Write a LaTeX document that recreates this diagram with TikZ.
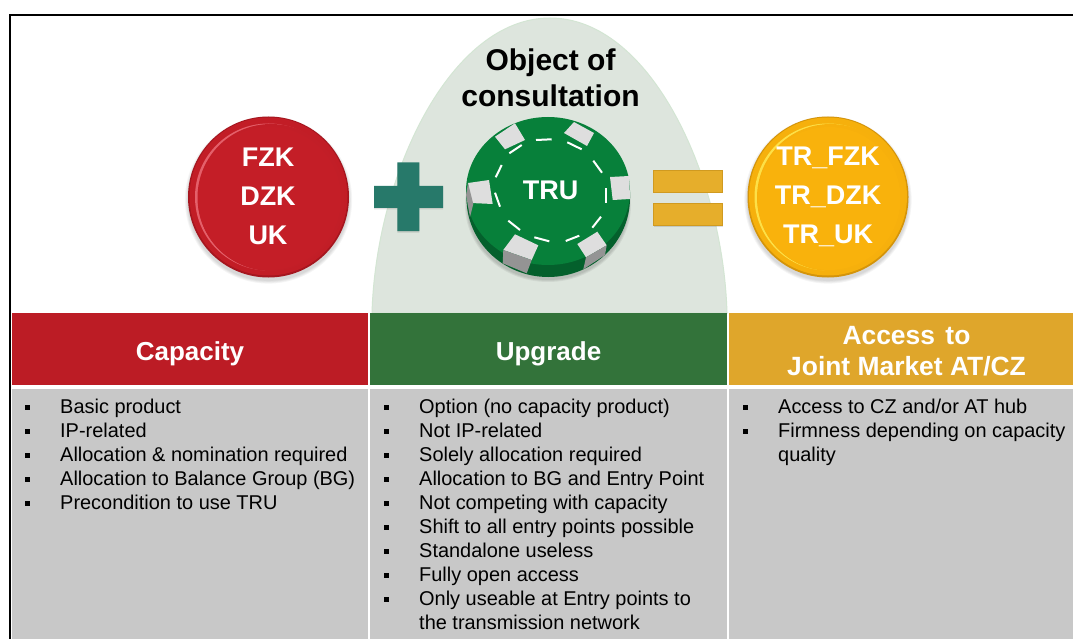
\documentclass[tikz,border=0pt]{standalone}
\usepackage{fontspec}
\setmainfont{Liberation Sans}
\usetikzlibrary{calc}
\definecolor{redc}{HTML}{C41E27}
\definecolor{redout}{HTML}{A5161F}
\definecolor{redrim}{HTML}{E4606A}
\definecolor{redhead}{HTML}{BC1C25}
\definecolor{greenhead}{HTML}{33733A}
\definecolor{goldhead}{HTML}{DFA62B}
\definecolor{bodygrey}{HTML}{C8C8C8}
\definecolor{bell}{HTML}{DDE5DD}
\definecolor{bellline}{HTML}{D3E5D3}
\definecolor{plusc}{HTML}{27796A}
\definecolor{eqc}{HTML}{E6AE2B}
\definecolor{eqline}{HTML}{D09A20}
\definecolor{chipg}{HTML}{07803A}
\definecolor{chipd}{HTML}{04602C}
\definecolor{stripe}{HTML}{DEDEDE}
\definecolor{stripes}{HTML}{949494}
\definecolor{goldc}{HTML}{F9B20C}
\definecolor{goldout}{HTML}{D4940A}
\definecolor{goldrim}{HTML}{FDE047}
\tikzset{
 x=1pt,y=-1pt,
 head/.style={text=white,font=\fontsize{26}{31}\selectfont\bfseries,align=center,anchor=center},
 coin/.style={text=white,font=\fontsize{27}{39}\selectfont\bfseries,align=center,anchor=center},
 item/.style={anchor=base west,inner sep=0pt,text=black,font=\fontsize{19.95}{24}\selectfont},
 bul/.style={fill=black,minimum size=5pt,inner sep=0pt,draw=none,anchor=center},
}
\newcommand{\button}[5]{%
 \foreach \r in {1,2,3,4}{\fill[black,opacity=.04] (#1,#2+3) circle[radius=80+\r*.9];}
 \fill[#3] (#1,#2) circle[radius=80.5];
 \fill[#5!92!#3] (#1,#2-.5) circle[radius=79];
 \fill[#4] (#1,#2) circle[radius=73.5];
 \fill[#5!94!#3] (#1+2.5,#2+.5) circle[radius=73.5];
 \fill[#5] (#1+1,#2+1.5) circle[radius=71.5];
}
\begin{document}
\begin{tikzpicture}
\useasboundingbox (0,0) rectangle (1073,639);
\fill[white] (0,0) rectangle (1073,639);
% frame
\coordinate (fb) at (9.5,639);
\coordinate (ft) at (9.5,15);
\coordinate (fr) at (1073,15);
\draw[black,line width=2pt] (fb) -- (ft) -- (fr);
% bell
\coordinate (bl) at (372,313);
\coordinate (bt) at (550,18);
\coordinate (br) at (727,313);
\fill[bell,draw=bellline,line width=1pt] (bl) .. controls (376,175) and (450,18) .. (bt) .. controls (650,18) and (723,175) .. (br) -- cycle;
% headers
\fill[redhead] (12,313) rectangle (368,385);
\fill[greenhead] (370,313) rectangle (727,385);
\fill[goldhead] (729,313) rectangle (1073,385);
\node[head] (h1) at (190,353.5) {Capacity};
\node[head] (h2) at (548.5,353.5) {Upgrade};
\node[head,font=\fontsize{26.4}{31}\selectfont\bfseries] (h3) at (906.5,351) {Access\hspace{.12em} to\\Joint Market AT/CZ};
% bodies
\fill[bodygrey] (12,389) rectangle (368,639);
\fill[bodygrey] (370,389) rectangle (727,639);
\fill[bodygrey] (729,389) rectangle (1073,639);
\foreach \t [count=\i] in {Basic product,IP-related,Allocation \& nomination required,Allocation to Balance Group (BG),Precondition to use TRU}{
 \node[bul] (ba\i) at (27.5,383+24*\i) {};
 \node[item] (ta\i) at (60,389+24*\i) {\t};
}
\foreach \t [count=\i] in {Option (no capacity product),Not IP-related,Solely allocation required,Allocation to BG and Entry Point,Not competing with capacity,Shift to all entry points possible,Standalone useless,Fully open access,Only useable at Entry points to}{
 \node[bul] (bb\i) at (386.5,383+24*\i) {};
 \node[item] (tb\i) at (419,389+24*\i) {\t};
}
\node[item] (tb10) at (419,629) {the transmission network};
\node[bul] (bc1) at (745.5,407) {};
\node[item] (tc1) at (778,413) {Access to CZ and/or AT hub};
\node[bul] (bc2) at (745.5,431) {};
\node[item] (tc2) at (778,437) {Firmness depending on capacity};
\node[item] (tc3) at (778,461) {quality};
% title
\node[text=black,font=\fontsize{30}{36}\selectfont\bfseries,align=center] (title) at (550.5,78) {Object of\\consultation};
% red coin
\button{268.5}{197}{redout}{redrim}{redc}
\node[coin] (c1) at (268,196) {FZK\\DZK\\UK};
% plus
\fill[black,opacity=.12] (397.3,163.5) rectangle (419.3,232.5) (374,187) rectangle (443,209.5);
\fill[plusc] (397.3,162.5) -- (419.3,162.5) -- (419.3,186) -- (443,186) -- (443,208) -- (419.3,208) -- (419.3,231) -- (397.3,231) -- (397.3,208) -- (374,208) -- (374,186) -- (397.3,186) -- cycle;
% chip
\foreach \r in {1,2,3}{\fill[black,opacity=.06] (548,205) ellipse[x radius=80+\r,y radius=74+\r];}
\fill[chipd] (466.5,192) -- (548,191) -- (630,192) -- (630,198) arc[start angle=0,end angle=180,x radius=81.75,y radius=79] -- cycle;
\fill[chipg] (548,191) ellipse[x radius=82,y radius=74];
% chip stripes: top face
\foreach \p in {
 {(495,136.7)--(515,123.3)--(525,140)--(505,149.3)},
 {(564,133)--(574,122)--(594,133)--(587,146)},
 {(610,177)--(629.3,176)--(630,199)--(612.7,200)},
 {(468,183)--(489,180)--(492.7,204)--(471,203)},
 {(515,234.3)--(538.3,245.3)--(531.7,260)--(503.3,250)},
 {(577.3,244)--(597.3,231.7)--(606.7,245.3)--(586,257.3)}}{
 \fill[stripe] \p -- cycle;
}
\foreach \p in {
 {(468,183)--(466,195)--(470,217)--(473.3,204)},
 {(503.3,250)--(531.7,260)--(526.7,273.3)--(502.7,263.3)},
 {(586,257.3)--(606.7,245.3)--(605,255)--(583.3,269.3)}}{
 \fill[stripes] \p -- cycle;
}
\foreach \a/\b/\c/\d in {
 536/140/551.7/139.3, 567.3/142.3/581.7/149.3, 593.3/160.7/602/172.7,
 606/188.3/606/202.7, 601/216.7/592.3/227.7, 579.3/235.7/565.7/241,
 549.3/241.3/534.3/237.3, 520/230/508.3/220.7, 500/206.7/495/192.7,
 495.7/177.3/501.7/165, 509.3/153.3/521.7/145}{
 \draw[white,line width=2pt] (\a,\b) -- (\c,\d);
}
\node[coin,font=\fontsize{27}{32}\selectfont\bfseries] (c2) at (550.5,190) {TRU};
% equals
\foreach \y in {170,203}{
 \fill[black,opacity=.12] (653.5,\y+1) rectangle (723,\y+23.5);
 \fill[eqc,draw=eqline] (653.5,\y) rectangle (722,\y+22);
}
% gold coin
\button{828}{197}{goldout}{goldrim}{goldc}
\node[coin] (c3) at (828,196.5) {TR\_FZK\\TR\_DZK\\TR\_UK};
\end{tikzpicture}
\end{document}
